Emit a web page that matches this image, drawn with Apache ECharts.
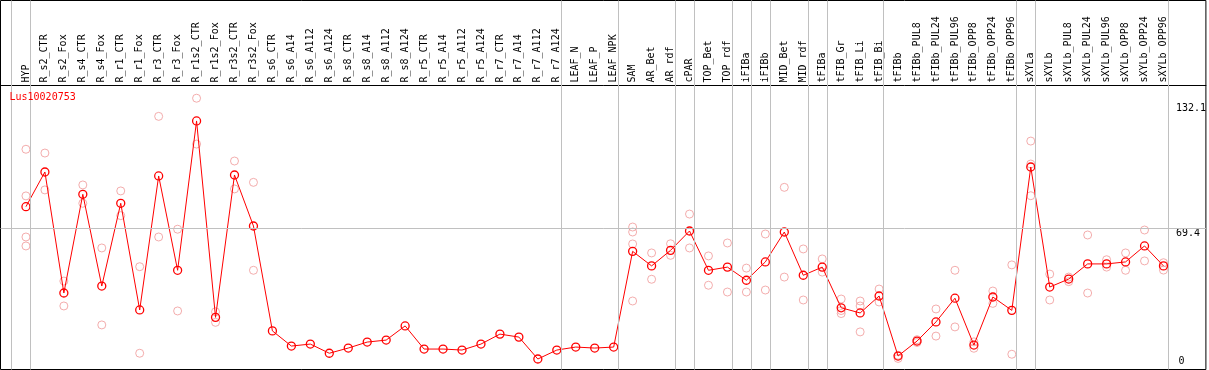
<!DOCTYPE html>
<html>
<head>
<meta charset="utf-8">
<script src="https://cdn.jsdelivr.net/npm/echarts@6/dist/echarts.min.js"></script>
<style>html,body{margin:0;padding:0;background:#fff}#c{width:1209px;height:370px}</style>
</head>
<body>
<div id="c"></div>
<script>
const geneName = 'Lus10020753';
const categories = ['HYP','R_s2_CTR','R_s2_Fox','R_s4_CTR','R_s4_Fox','R_r1_CTR','R_r1_Fox','R_r3_CTR','R_r3_Fox','R_r1s2_CTR','R_r1s2_Fox','R_r3s2_CTR','R_r3s2_Fox','R_s6_CTR','R_s6_A14','R_s6_A112','R_s6_A124','R_s8_CTR','R_s8_A14','R_s8_A112','R_s8_A124','R_r5_CTR','R_r5_A14','R_r5_A112','R_r5_A124','R_r7_CTR','R_r7_A14','R_r7_A112','R_r7_A124','LEAF_N','LEAF_P','LEAF_NPK','SAM','AR_Bet','AR_rdf','cPAR','TOP_Bet','TOP_rdf','iFIBa','iFIBb','MID_Bet','MID_rdf','tFIBa','tFIB_Gr','tFIB_Li','tFIB_Bi','tFIBb','tFIBb_PUL8','tFIBb_PUL24','tFIBb_PUL96','tFIBb_OPP8','tFIBb_OPP24','tFIBb_OPP96','sXYLa','sXYLb','sXYLb_PUL8','sXYLb_PUL24','sXYLb_PUL96','sXYLb_OPP8','sXYLb_OPP24','sXYLb_OPP96'];
const means = [80.1,97.5,36.8,86.3,40.3,81.8,28.3,95.5,48.2,123.1,24.6,96.0,70.4,17.8,10.2,11.2,6.6,9.2,12.2,13.2,20.3,8.7,8.7,8.2,11.2,16.2,14.7,3.7,8.2,9.7,9.2,9.7,57.7,50.4,58.2,67.9,48.2,49.8,43.2,52.4,67.4,45.7,49.8,29.4,26.8,35.3,5.2,12.7,22.3,34.2,10.7,34.8,28.1,100.0,39.8,43.8,51.4,51.4,52.4,60.4,50.4];
const replicates = [
  [108.9,85.5,64.9,60.4],[107.0,88.5],[42.8,30.3],[91.0,81.8],[59.4,20.8],[88.0,75.6],[50.0,6.6],[125.4,64.9],[68.8,27.8],[134.5,111.5],[27.4,22.1],[103.0,89.0],[92.3,48.2],
  [],[],[],[],[],[],[],[],[],[],[],[],[],[],[],[],[],[],[],
  [69.9,67.4,61.4,32.8],[56.9,43.7],[61.5,55.7],[76.4,59.4],[55.4,40.7],[61.9,37.3],[49.3,37.3],[66.4,38.3],[89.8,44.8],[58.9,33.3],[53.9,47.3],[33.8,28.0,26.5],[32.8,30.3,17.3],[38.8,32.3],
  [4.0,5.6],[12.0,13.4],[28.8,15.2],[48.2,19.8],[9.1,12.3],[37.8,31.6],[50.9,6.1],
  [113.0,101.5,85.6],[46.3,33.3],[44.8,42.5],[65.9,36.8],[53.5,49.8],[56.9,48.2],[68.4,52.9],[52.0,48.3]
];
const yUpperTicks = [69.4, 132.1];
const yLowerTicks = [0];
const yGridValues = [69.4];
const groupEnds = [-1, 0, 28, 31, 34, 35, 37, 38, 39, 41, 42, 45, 52, 53, 60];

const meanData = means.map((v, i) => [i, v]);
const repData = [];
replicates.forEach((arr, i) => arr.forEach(v => repData.push([i, v])));
const idx = categories.map((_, i) => i);
const mono = 'DejaVu Sans Mono';
const Y_MIN = -1.555, Y_MAX = 183.5;

const chart = echarts.init(document.getElementById('c'), null, {renderer: 'canvas'});
chart.setOption({
  animation: false,
  backgroundColor: '#fff',
  title: {
    text: geneName, left: 9.5, top: 91, padding: 0,
    textStyle: {color: '#ff0000', fontFamily: mono, fontSize: 10, fontWeight: 'normal', lineHeight: 12}
  },
  grid: {left: 0.5, top: 0.5, right: 0.5, bottom: 0.5, show: true, borderColor: '#000', borderWidth: 1, backgroundColor: '#fff', containLabel: false},
  xAxis: {
    type: 'value', position: 'top', offset: -85,
    min: -1.3421, max: 62.2368,
    axisLine: {show: true, onZero: false, lineStyle: {color: '#000', width: 1}},
    axisTick: {show: false},
    splitLine: {show: false},
    axisLabel: {
      customValues: idx, rotate: -90, margin: 3, showMinLabel: true, showMaxLabel: true,
      color: '#000', fontFamily: mono, fontSize: 10,
      formatter: v => categories[Math.round(v)] || ''
    }
  },
  yAxis: [
    {
      type: 'value', position: 'right', min: Y_MIN, max: Y_MAX,
      axisLine: {show: false}, axisTick: {show: false}, splitLine: {show: false},
      axisLabel: {
        inside: true, customValues: yUpperTicks, align: 'left', margin: 30, verticalAlign: 'top',
        color: '#000', fontFamily: mono, fontSize: 10, lineHeight: 10,
        formatter: v => String(v)
      }
    },
    {
      type: 'value', position: 'left', min: Y_MIN, max: Y_MAX,
      axisLine: {show: false}, axisTick: {show: false}, splitLine: {show: false},
      axisLabel: {
        inside: true, customValues: yLowerTicks, align: 'left', margin: 1178, verticalAlign: 'bottom',
        color: '#000', fontFamily: mono, fontSize: 10, lineHeight: 10,
        formatter: v => String(v)
      }
    }
  ],
  series: [
    {
      type: 'line', name: 'grid', data: [], z: 0, silent: true,
      markLine: {
        silent: true, symbol: 'none', animation: false,
        label: {show: false},
        lineStyle: {color: '#c0c0c0', type: 'solid', width: 1},
        data: groupEnds.map(e => ({xAxis: e + 0.24})).concat(yGridValues.map(v => ({yAxis: v})))
      }
    },
    {
      type: 'scatter', name: 'replicates', data: repData, z: 2,
      symbol: 'circle', symbolSize: 8,
      itemStyle: {color: 'rgba(255,255,255,0)', borderColor: '#f09898', borderWidth: 1}
    },
    {
      type: 'line', name: geneName, data: meanData, z: 3,
      symbol: 'circle', symbolSize: 8, showAllSymbol: true,
      lineStyle: {color: '#ff0000', width: 1},
      itemStyle: {color: 'rgba(255,255,255,0)', borderColor: '#ff0000', borderWidth: 1.3}
    }
  ]
});
</script>
</body>
</html>
